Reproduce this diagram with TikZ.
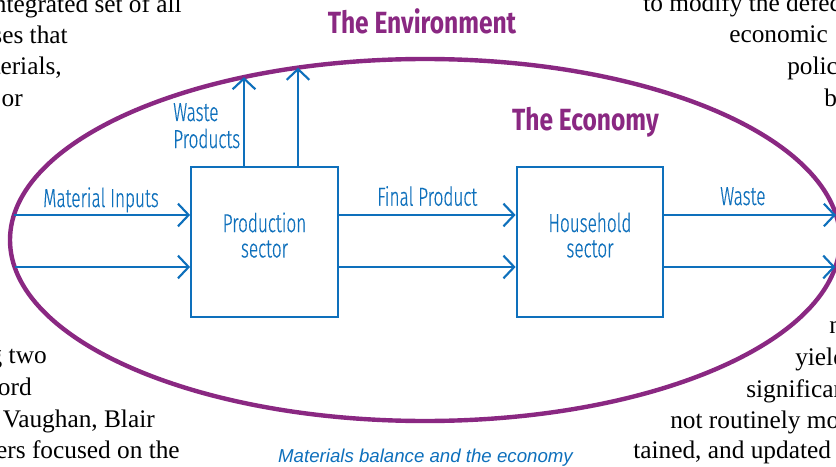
\documentclass[tikz,border=0pt]{standalone}
\usepackage{fontspec}
\usetikzlibrary{arrows.meta}
\newfontfamily\bodyserif{Liberation Serif}
\newfontfamily\flowfont[FakeStretch=0.66,FakeBold=0.4]{Fira Sans Light}
\newfontfamily\titlefont[FakeStretch=0.80]{Fira Sans}
\newfontfamily\notefont{Liberation Sans}
\definecolor{flowblue}{RGB}{14,112,188}
\definecolor{envpurple}{RGB}{138,40,130}
% extra depth under the last line of a box label lifts the lines inside the box
\newcommand\boxlift{\rule[-10.5pt]{0pt}{10.5pt}}
\tikzset{
  flow/.style={draw=flowblue, line width=1.6pt,
    -{Straight Barb[length=8pt,width=17pt,line width=1.6pt]}},
  sectorbox/.style={draw=flowblue, line width=1.6pt, inner sep=0pt,
    minimum width=110pt, minimum height=112.5pt, align=center,
    text=flowblue, font=\flowfont\fontsize{19.5pt}{19pt}\selectfont},
  flowlabel/.style={inner sep=0pt, text=flowblue,
    font=\flowfont\fontsize{19.5pt}{20pt}\selectfont},
  heading/.style={inner sep=0pt, text=envpurple,
    font=\titlefont\bfseries\fontsize{23pt}{24pt}\selectfont},
  caption/.style={inner sep=0pt, text=flowblue,
    font=\notefont\itshape\fontsize{14pt}{16pt}\selectfont},
  bodytext/.style={inner sep=0pt, text=black,
    font=\bodyserif\fontsize{19pt}{24pt}\selectfont},
}
\begin{document}
\begin{tikzpicture}[x=0.75pt,y=-0.75pt]
\useasboundingbox (0,0) rectangle (836,467);
\clip (0,0) rectangle (836,467);
\fill[white] (0,0) rectangle (836,467);

% surrounding column text
\node[bodytext, anchor=base east] (t1) at (182,13) {ntegrated set of all};
\node[bodytext, anchor=base east] (t2) at (68,44) {ses that};
\node[bodytext, anchor=base east] (t3) at (62,75) {terials,};
\node[bodytext, anchor=base east] (t4) at (23,107) {or};
\node[bodytext, anchor=base east] (b1) at (47,363) {g two};
\node[bodytext, anchor=base east] (b2) at (32,395) {ord};
\node[bodytext, anchor=base east] (b3) at (155,427) {n Vaughan, Blair};
\node[bodytext, anchor=base east] (b4) at (180,458) {ers focused on the};
\node[bodytext, anchor=base west] (r1) at (643,12) {to modify the defec};
\node[bodytext, anchor=base west] (r2) at (729,43) {economic};
\node[bodytext, anchor=base west] (r3) at (787,75) {polic};
\node[bodytext, anchor=base west] (r4) at (824,107) {b};
\node[bodytext, anchor=base west] (s1) at (829,333) {n};
\node[bodytext, anchor=base west] (s2) at (795,365) {yield};
\node[bodytext, anchor=base west] (s3) at (746,397) {significant};
\node[bodytext, anchor=base west] (s4) at (670,428) {not routinely mon};
\node[bodytext, anchor=base west] (s5) at (633,458) {tained, and updated};

% the environment boundary
\draw[envpurple, line width=3.3pt] (425,240) ellipse [x radius=311.25pt, y radius=135.75pt];
\coordinate (inA) at (14,215);
\coordinate (inB) at (14.6,267);
\coordinate (outA) at (836,215);
\coordinate (outB) at (835.4,267);
\coordinate (upA) at (244,77.1);
\coordinate (upB) at (298,67.7);

% the two sectors of the economy
\node[sectorbox] (prod) at (264.5,242) {Production\\sector\boxlift};
\node[sectorbox] (house) at (590,242) {Household\\sector\boxlift};

% material flows
\draw[flow] (inA) -- (inA -| prod.west);
\draw[flow] (inB) -- (inB -| prod.west);
\draw[flow] (prod.east |- inA) -- (house.west |- inA);
\draw[flow] (prod.east |- inB) -- (house.west |- inB);
\draw[flow] (house.east |- outA) -- (outA);
\draw[flow] (house.east |- outB) -- (outB);
\draw[flow] (prod.north -| upA) -- (upA);
\draw[flow] (prod.north -| upB) -- (upB);

% flow labels
\node[flowlabel, anchor=base west] (lin) at (43,207) {Material Inputs};
\node[flowlabel, anchor=base west] (lfin) at (377,205.7) {Final Product};
\node[flowlabel, anchor=base west] (lout) at (720,205) {Waste};
\node[flowlabel, anchor=base west] (lup1) at (173,121) {Waste};
\node[flowlabel, anchor=base west] (lup2) at (173,148) {Products};

% headings and caption
\node[heading, anchor=base] (henv) at (422,34) {The Environment};
\node[heading, anchor=base] (heco) at (585.5,130.5) {The Economy};
\node[caption, anchor=base] (cap) at (425.5,462.5) {Materials balance and the economy};
\end{tikzpicture}
\end{document}
